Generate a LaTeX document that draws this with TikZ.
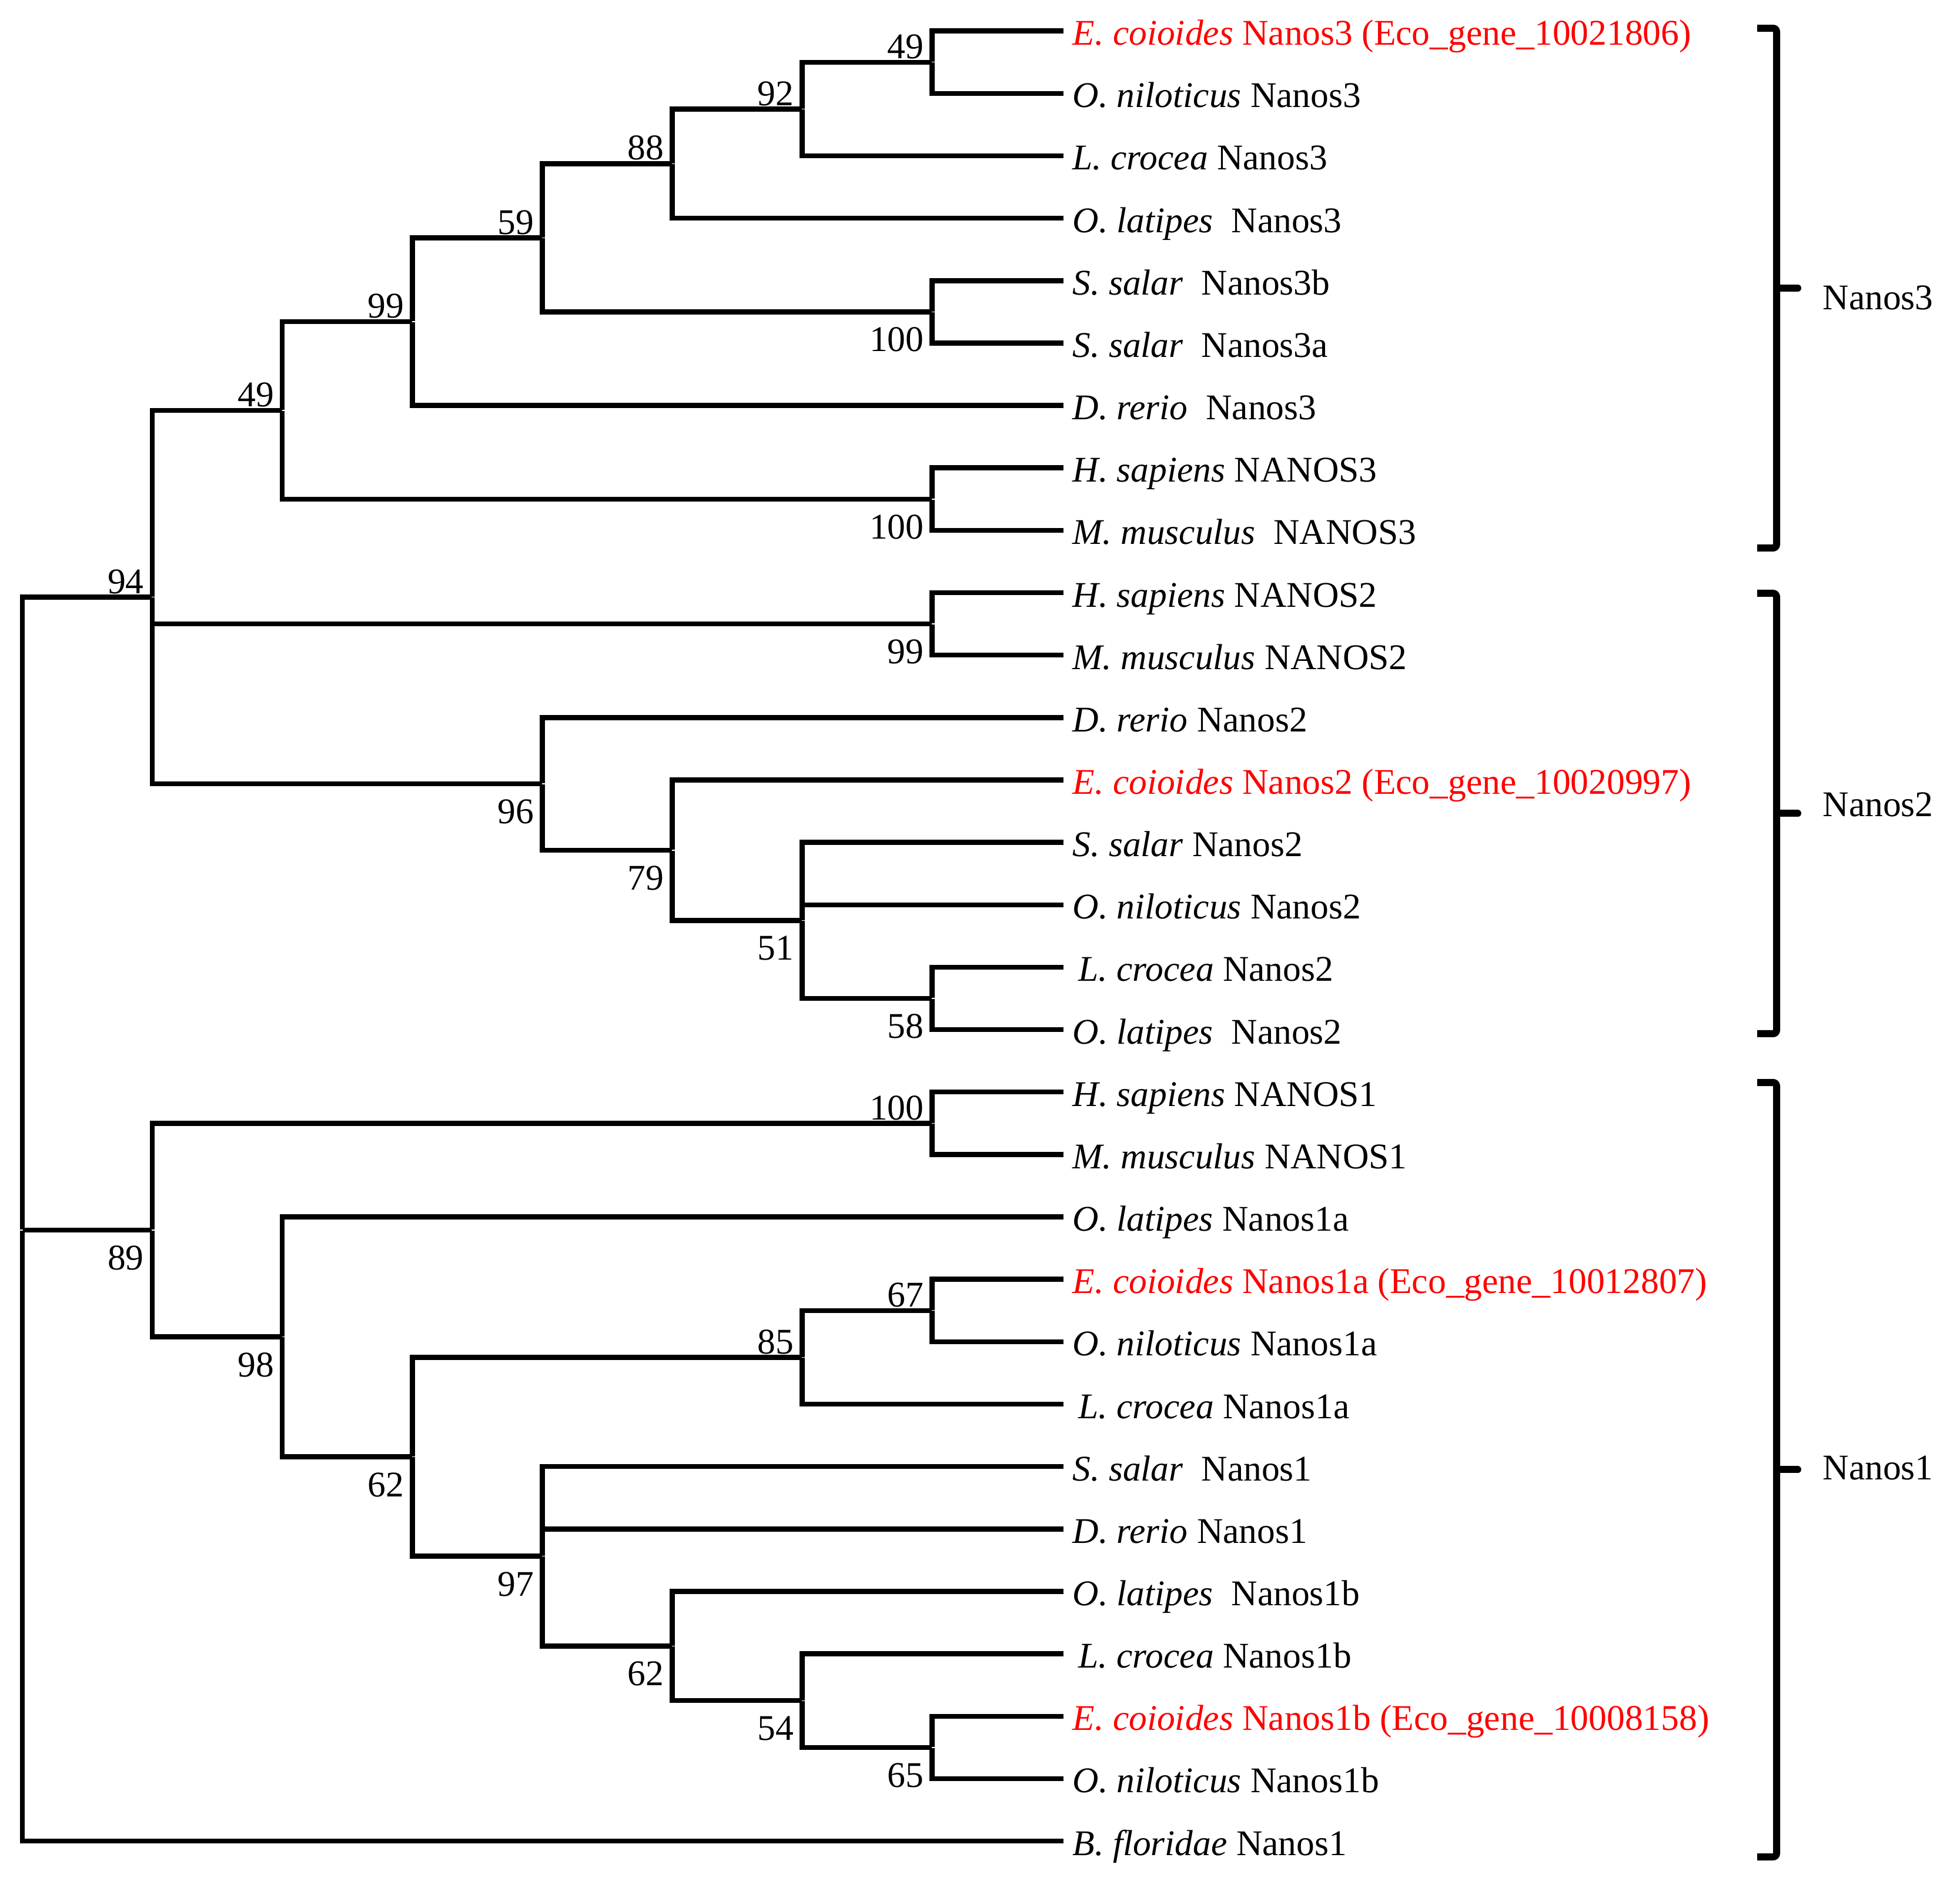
\documentclass[tikz,border=0pt]{standalone}
\usepackage{fontspec}
\setmainfont{Liberation Serif}
\newcommand{\treefont}{\fontsize{17.5pt}{21pt}\selectfont}
\tikzset{
  fork/.style={inner sep=0pt, minimum size=0pt},
  leaf/.style={anchor=west, inner xsep=1.5mm, inner ysep=0pt, text height=4.8mm, text depth=0pt},
  eco/.style={leaf, text=red},
  bsup/.style={label={[anchor=south east, inner sep=0pt, xshift=-1.3mm, yshift=0.5mm]180:#1}},
  bsdown/.style={label={[anchor=north east, inner sep=0pt, xshift=-1.3mm, yshift=-2.6mm]180:#1}},
  branch/.style={line width=0.85mm},
  clade/.style={line width=1.2mm, rounded corners=0.6mm},
  cladename/.style={anchor=base west, inner sep=0pt}
}

\begin{document}
\begin{tikzpicture}[x=2.211cm, y=-1.0615cm, font=\treefont]
  \useasboundingbox (-0.38cm,0.527cm) rectangle (32.96cm,-31.463cm);

  % leaves
  \node[eco]  (l0)  at (8.01,0)  {\textit{E. coioides} Nanos3 (Eco\_gene\_10021806)};
  \node[leaf] (l1)  at (8.01,1)  {\textit{O. niloticus} Nanos3};
  \node[leaf] (l2)  at (8.01,2)  {\textit{L. crocea} Nanos3};
  \node[leaf] (l3)  at (8.01,3)  {\textit{O. latipes}\ \ Nanos3};
  \node[leaf] (l4)  at (8.01,4)  {\textit{S. salar}\ \ Nanos3b};
  \node[leaf] (l5)  at (8.01,5)  {\textit{S. salar}\ \ Nanos3a};
  \node[leaf] (l6)  at (8.01,6)  {\textit{D. rerio}\ \ Nanos3};
  \node[leaf] (l7)  at (8.01,7)  {\textit{H. sapiens} NANOS3};
  \node[leaf] (l8)  at (8.01,8)  {\textit{M. musculus}\ \ NANOS3};
  \node[leaf] (l9)  at (8.01,9)  {\textit{H. sapiens} NANOS2};
  \node[leaf] (l10) at (8.01,10) {\textit{M. musculus} NANOS2};
  \node[leaf] (l11) at (8.01,11) {\textit{D. rerio} Nanos2};
  \node[eco]  (l12) at (8.01,12) {\textit{E. coioides} Nanos2 (Eco\_gene\_10020997)};
  \node[leaf] (l13) at (8.01,13) {\textit{S. salar} Nanos2};
  \node[leaf] (l14) at (8.01,14) {\textit{O. niloticus} Nanos2};
  \node[leaf] (l15) at (8.01,15) {\kern1mm\textit{L. crocea} Nanos2};
  \node[leaf] (l16) at (8.01,16) {\textit{O. latipes}\ \ Nanos2};
  \node[leaf] (l17) at (8.01,17) {\textit{H. sapiens} NANOS1};
  \node[leaf] (l18) at (8.01,18) {\textit{M. musculus} NANOS1};
  \node[leaf] (l19) at (8.01,19) {\textit{O. latipes} Nanos1a};
  \node[eco]  (l20) at (8.01,20) {\textit{E. coioides} Nanos1a (Eco\_gene\_10012807)};
  \node[leaf] (l21) at (8.01,21) {\textit{O. niloticus} Nanos1a};
  \node[leaf] (l22) at (8.01,22) {\kern1mm\textit{L. crocea} Nanos1a};
  \node[leaf] (l23) at (8.01,23) {\textit{S. salar}\ \ Nanos1};
  \node[leaf] (l24) at (8.01,24) {\textit{D. rerio} Nanos1};
  \node[leaf] (l25) at (8.01,25) {\textit{O. latipes}\ \ Nanos1b};
  \node[leaf] (l26) at (8.01,26) {\kern1mm\textit{L. crocea} Nanos1b};
  \node[eco]  (l27) at (8.01,27) {\textit{E. coioides} Nanos1b (Eco\_gene\_10008158)};
  \node[leaf] (l28) at (8.01,28) {\textit{O. niloticus} Nanos1b};
  \node[leaf] (l29) at (8.01,29) {\textit{B. floridae} Nanos1};

  % Nanos3 clade
  \node[fork, bsup=49]    (a49)   at (7,0.5) {};
  \node[fork, bsup=92]    (a92)   at (6,1.25) {};
  \node[fork, bsup=88]    (a88)   at (5,2.125) {};
  \node[fork, bsdown=100] (a100s) at (7,4.5) {};
  \node[fork, bsup=59]    (a59)   at (4,3.3125) {};
  \node[fork, bsup=99]    (a99)   at (3,4.656) {};
  \node[fork, bsdown=100] (a100m) at (7,7.5) {};
  \node[fork, bsup=49]    (a49b)  at (2,6.078) {};

  % Nanos2 clade
  \node[fork, bsdown=99]  (b99)   at (7,9.5) {};
  \node[fork, bsdown=58]  (b58)   at (7,15.5) {};
  \node[fork, bsdown=51]  (b51)   at (6,14.25) {};
  \node[fork, bsdown=79]  (b79)   at (5,13.125) {};
  \node[fork, bsdown=96]  (b96)   at (4,12.0625) {};
  \node[fork, bsup=94]    (n94)   at (1,9.07) {};

  % Nanos1 clade
  \node[fork, bsup=100]   (c100)  at (7,17.5) {};
  \node[fork, bsup=67]    (c67)   at (7,20.5) {};
  \node[fork, bsup=85]    (c85)   at (6,21.25) {};
  \node[fork, bsdown=65]  (c65)   at (7,27.5) {};
  \node[fork, bsdown=54]  (c54)   at (6,26.75) {};
  \node[fork, bsdown=62]  (c62b)  at (5,25.875) {};
  \node[fork, bsdown=97]  (c97)   at (4,24.4375) {};
  \node[fork, bsdown=62]  (c62a)  at (3,22.844) {};
  \node[fork, bsdown=98]  (c98)   at (2,20.922) {};
  \node[fork, bsdown=89]  (n89)   at (1,19.21) {};
  \node[fork]             (root)  at (0,19.21) {};

  \draw[branch] (l0) -| (a49) |- (l1);
  \draw[branch] (a49) -| (a92) |- (l2);
  \draw[branch] (a92) -| (a88) |- (l3);
  \draw[branch] (l4) -| (a100s) |- (l5);
  \draw[branch] (a88) -| (a59) |- (a100s);
  \draw[branch] (a59) -| (a99) |- (l6);
  \draw[branch] (l7) -| (a100m) |- (l8);
  \draw[branch] (a99) -| (a49b) |- (a100m);

  \draw[branch] (l9) -| (b99) |- (l10);
  \draw[branch] (l15) -| (b58) |- (l16);
  \draw[branch] (l13) -| (b51) |- (b58);
  \draw[branch] (b51) |- (l14);
  \draw[branch] (l12) -| (b79) |- (b51);
  \draw[branch] (l11) -| (b96) |- (b79);
  \draw[branch] (a49b) -| (n94) |- (b96);
  \draw[branch] (n94) |- (b99);

  \draw[branch] (l17) -| (c100) |- (l18);
  \draw[branch] (l20) -| (c67) |- (l21);
  \draw[branch] (c67) -| (c85) |- (l22);
  \draw[branch] (l27) -| (c65) |- (l28);
  \draw[branch] (l26) -| (c54) |- (c65);
  \draw[branch] (l25) -| (c62b) |- (c54);
  \draw[branch] (l23) -| (c97) |- (c62b);
  \draw[branch] (c97) |- (l24);
  \draw[branch] (c85) -| (c62a) |- (c97);
  \draw[branch] (l19) -| (c98) |- (c62a);
  \draw[branch] (c100) -| (n89) |- (c98);

  \draw[branch] (n94) -| (root) |- (l29);
  \draw[branch] (root) -- (n89);

  % clade brackets
  \draw[clade] (13.347,-0.044) -- (13.496,-0.044) -- (13.496,8.283) -- (13.347,8.283);
  \draw[clade, line cap=round] (13.496,4.12) -- (13.659,4.12);
  \node[cladename] (g3) at (13.849,4.459) {Nanos3};

  \draw[clade] (13.347,9.009) -- (13.496,9.009) -- (13.496,16.065) -- (13.347,16.065);
  \draw[clade, line cap=round] (13.496,12.537) -- (13.659,12.537);
  \node[cladename] (g2) at (13.849,12.58) {Nanos2};

  \draw[clade] (13.347,16.847) -- (13.496,16.847) -- (13.496,29.254) -- (13.347,29.254);
  \draw[clade, line cap=round] (13.496,23.05) -- (13.659,23.05);
  \node[cladename] (g1) at (13.849,23.215) {Nanos1};
\end{tikzpicture}
\end{document}
